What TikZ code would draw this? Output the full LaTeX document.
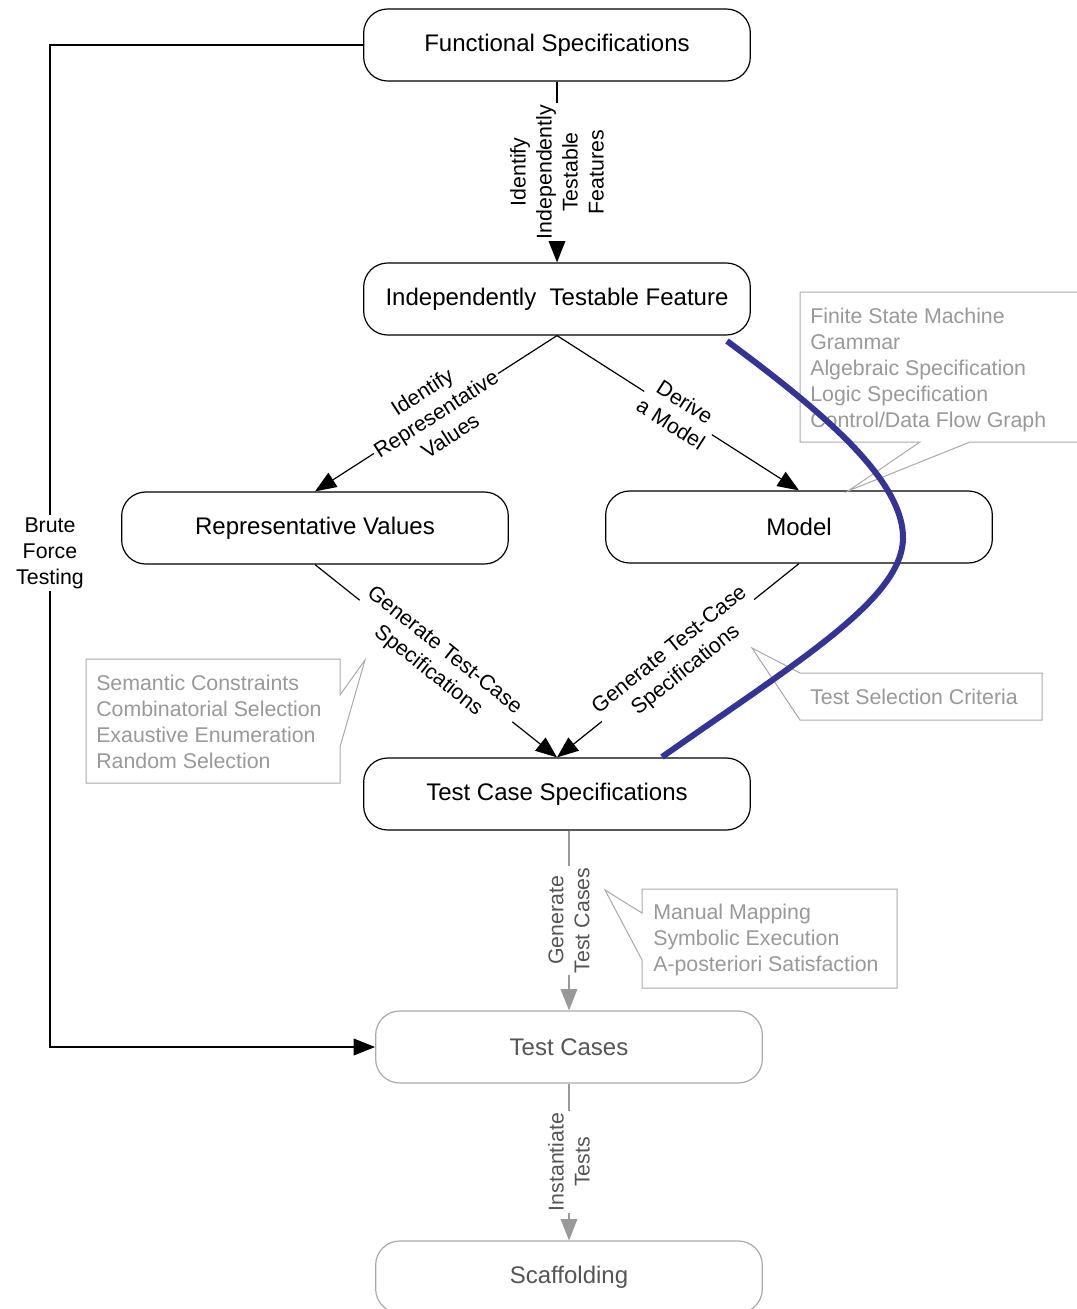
\documentclass[tikz,border=0pt]{standalone}
\usepackage{fontspec}
\setmainfont{Liberation Sans}
\usepackage{xcolor}
\usepackage{tikz}
\usetikzlibrary{arrows.meta}
\definecolor{faded}{HTML}{AAAAAA}
\definecolor{notetext}{HTML}{999999}
\definecolor{darktext}{HTML}{555555}
\definecolor{pathblue}{HTML}{333399}
\tikzstyle{box}=[fill=white, draw=black, line width=0.9pt, shape=rectangle, rounded corners=18pt, minimum width=290pt, minimum height=54pt, font=\fontsize{18}{21.6}\selectfont]
\tikzstyle{grey box}=[box, draw=faded, text=darktext]
\tikzstyle{edge text}=[fill=white, inner sep=1.5pt, align=center, font=\fontsize{16}{19.5}\selectfont]
\tikzstyle{grey text}=[edge text, text=darktext]
\tikzstyle{flow}=[draw=black, line width=0.9pt, -{Triangle[length=16pt, width=12.5pt]}]
\tikzstyle{grey flow}=[flow, draw=notetext]
\tikzstyle{note}=[fill=white, draw=faded, line width=0.75pt]
\tikzstyle{note text}=[text=notetext, align=left, anchor=west, inner sep=0pt, font=\fontsize{16}{19.5}\selectfont]
\tikzstyle{blue path}=[draw=pathblue, line width=4.5pt]
\pgfdeclarelayer{nodelayer}
\pgfdeclarelayer{edgelayer}
\pgfsetlayers{edgelayer,nodelayer,main}

\begin{document}
\begin{tikzpicture}[x=75pt, y=75pt]
	\useasboundingbox (0, 0) rectangle (10.77, -13.09);
	\begin{pgfonlayer}{nodelayer}
		\node [style=box] (0) at (5.57, -0.45) {Functional Specifications};
		\node [style=box] (1) at (5.57, -2.99) {Independently\ \ Testable Feature};
		\node [style=box] (2) at (3.15, -5.28) {Representative Values};
		\node [style=box] (3) at (7.99, -5.27) {Model};
		\node [style=box] (4) at (5.57, -7.94) {Test Case Specifications};
		\node [style=grey box] (5) at (5.69, -10.47) {Test Cases};
		\node [style=grey box] (6) at (5.69, -12.77) {Scaffolding};
		\node [style=edge text] (7) at (0.50, -5.53) {Brute\\Force\\Testing};
		\draw [style=note] (8.00, -2.92) -- (10.80, -2.92) -- (10.80, -4.42) -- (9.70, -4.42) -- (8.48, -4.91) -- (9.20, -4.42) -- (8.00, -4.42) -- cycle;
		\draw [style=note] (0.86, -6.59) -- (3.40, -6.59) -- (3.40, -6.95) -- (3.65, -6.60) -- (3.40, -7.47) -- (3.40, -7.83) -- (0.86, -7.83) -- cycle;
		\draw [style=note] (8.00, -6.73) -- (10.42, -6.73) -- (10.42, -7.20) -- (8.00, -7.20) -- (7.52, -6.48) -- cycle;
		\draw [style=note] (6.42, -8.89) -- (8.97, -8.89) -- (8.97, -9.88) -- (6.42, -9.88) -- (6.42, -9.60) -- (6.05, -8.90) -- (6.42, -9.13) -- cycle;
		\node [style=note text] (8) at (8.10, -3.70) {Finite State Machine\\Grammar\\Algebraic Specification\\Logic Specification\\Control/Data Flow Graph};
		\node [style=note text] (9) at (0.96, -7.22) {Semantic Constraints\\Combinatorial Selection\\Exaustive Enumeration\\Random Selection};
		\node [style=note text] (10) at (8.10, -6.97) {Test Selection Criteria};
		\node [style=note text] (11) at (6.53, -9.40) {Manual Mapping\\Symbolic Execution\\A-posteriori Satisfaction};
	\end{pgfonlayer}
	\begin{pgfonlayer}{edgelayer}
		\draw [style=flow] (0) -- node [style=edge text, rotate=90] {Identify\\Independently\\Testable\\Features} (1);
		\draw [style=flow] (1.south) -- node [style=edge text, sloped] {Identify\\Representative\\Values} (2.north);
		\draw [style=flow] (1.south) -- node [style=edge text, sloped] {Derive\\a Model} (3.north);
		\draw [style=flow] (2.south) -- node [style=edge text, sloped] {Generate Test-Case\\Specifications} (4.north);
		\draw [style=flow] (3.south) -- node [style=edge text, sloped] {Generate Test-Case\\Specifications} (4.north);
		\draw [style=grey flow] (5.north |- 4.south) -- node [style=grey text, rotate=90] {Generate\\Test Cases} (5.north);
		\draw [style=grey flow] (5) -- node [style=grey text, rotate=90] {Instantiate\\Tests} (6);
		\draw [style=flow] (0) -| (7.center) |- (5);
	\end{pgfonlayer}
	\draw [style=blue path] (7.27, -3.41) .. controls (8.20, -4.10) and (9.05, -4.80) .. (9.03, -5.40) .. controls (9.00, -6.00) and (8.00, -6.60) .. (6.62, -7.57);
\end{tikzpicture}
\end{document}
